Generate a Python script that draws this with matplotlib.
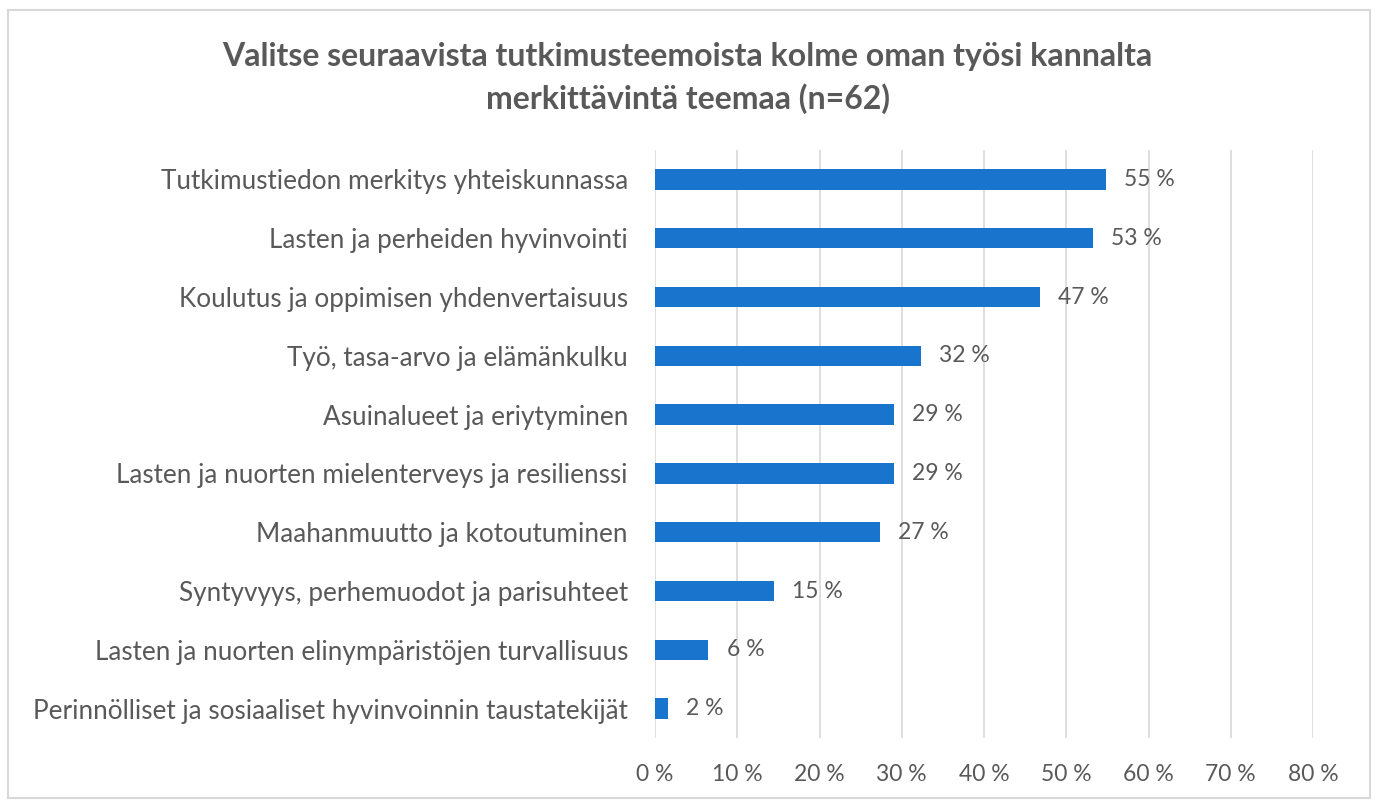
import matplotlib
matplotlib.use("Agg")
import matplotlib.pyplot as plt
from matplotlib.patches import Rectangle

categories = [
    "Tutkimustiedon merkitys yhteiskunnassa",
    "Lasten ja perheiden hyvinvointi",
    "Koulutus ja oppimisen yhdenvertaisuus",
    "Työ, tasa-arvo ja elämänkulku",
    "Asuinalueet ja eriytyminen",
    "Lasten ja nuorten mielenterveys ja resilienssi",
    "Maahanmuutto ja kotoutuminen",
    "Syntyvyys, perhemuodot ja parisuhteet",
    "Lasten ja nuorten elinympäristöjen turvallisuus",
    "Perinnölliset ja sosiaaliset hyvinvoinnin taustatekijät",
]
values = [0.548, 0.532, 0.468, 0.323, 0.290, 0.290, 0.274, 0.1452, 0.065, 0.016]
xticks = [0, 0.1, 0.2, 0.3, 0.4, 0.5, 0.6, 0.7, 0.8]
title = "Valitse seuraavista tutkimusteemoista kolme oman työsi kannalta\nmerkittävintä teemaa (n=62)"

plt.rcParams['font.family'] = ['Lato', 'DejaVu Sans']
gray = "#595959"
blue = "#1874CD"

W, H = 1375, 800
fig = plt.figure(figsize=(W / 100, H / 100), dpi=100)
fig.patches.append(Rectangle((8 / W, 2 / H), 1362 / W, 788 / H, transform=fig.transFigure,
                             fill=False, edgecolor="#d9d9d9", linewidth=1.5))

ax = fig.add_axes([655 / W, 1 - 738 / H, (1313 - 655) / W, (738 - 150) / H])
ypos = list(range(len(categories)))
ax.barh(ypos, values, height=0.35, color=blue)
ax.set_ylim(len(categories) - 0.5, -0.5)
ax.set_xlim(0, 0.8)
ax.set_yticks(ypos)
ax.set_yticklabels(categories, fontsize=18.8, color=gray)
ax.set_xticks(xticks)
ax.set_xticklabels([f"{round(t * 100)} %" for t in xticks], fontsize=16.5, color=gray)
ax.tick_params(axis='both', length=0)
ax.tick_params(axis='y', pad=19.5)
ax.tick_params(axis='x', pad=19)
ax.grid(axis='x', color="#d9d9d9", linewidth=1.2)
ax.set_axisbelow(True)
for s in ax.spines.values():
    s.set_visible(False)
for y, v in zip(ypos, values):
    ax.annotate(f"{v * 100:.0f} %", (v, y), xytext=(13, 0), textcoords='offset points',
                va='center', ha='left', fontsize=16.5, color=gray)

fig.text(0.5, 1 - 78 / H, title, ha='center', va='center', fontsize=23, fontweight='bold',
         color=gray, linespacing=1.5)

fig.savefig("out.png", dpi=100)
